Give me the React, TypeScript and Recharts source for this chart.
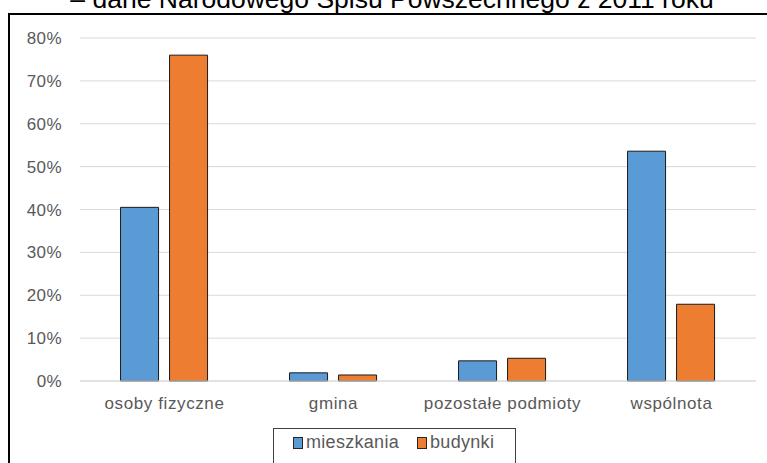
import { BarChart, Bar, XAxis, YAxis, CartesianGrid } from 'recharts'

const categories = ['osoby fizyczne', 'gmina', 'pozostałe podmioty', 'wspólnota']
const mieszkania = [40.5, 1.9, 4.7, 53.6]
const budynki = [76.0, 1.4, 5.3, 17.9]
const yTicks = [0, 10, 20, 30, 40, 50, 60, 70, 80]

const BLUE = '#5b9bd5'
const ORANGE = '#ed7d31'
const FONT = '"Liberation Sans", Arial, sans-serif'

const data = categories.map((name, i) => ({ name, mieszkania: mieszkania[i], budynki: budynki[i] }))

function LegendBox() {
  const sq = (color: string) => (
    <span style={{ display: 'inline-block', width: 8, height: 10, background: color, border: '1px solid #262626', marginRight: 3 }} />
  )
  return (
    <div
      style={{
        position: 'absolute', left: 273, top: 428, width: 243, height: 40, border: '1px solid #404040',
        boxSizing: 'border-box', fontFamily: FONT, fontSize: 18, letterSpacing: 0.3, color: '#595959', display: 'flex',
        alignItems: 'flex-start', paddingTop: 3, paddingLeft: 19,
      }}
    >
      <span style={{ display: 'flex', alignItems: 'center' }}>{sq(BLUE)}mieszkania</span>
      <span style={{ display: 'flex', alignItems: 'center', marginLeft: 18 }}>{sq(ORANGE)}budynki</span>
    </div>
  )
}

export default function App() {
  return (
    <div style={{ position: 'fixed', left: 0, top: 0, width: 767, height: 463, overflow: 'hidden', background: '#fff' }}>
      <div
        style={{
          position: 'absolute', left: 0, top: -16, width: 784, textAlign: 'center', fontFamily: FONT,
          fontSize: 26.5, color: '#000', whiteSpace: 'nowrap',
        }}
      >
        – dane Narodowego Spisu Powszechnego z 2011 roku
      </div>
      <div style={{ position: 'absolute', left: 8, top: 13, width: 780, height: 480, border: '2px solid #000', boxSizing: 'border-box' }} />
      <div style={{ position: 'absolute', left: 0, top: 0 }}>
        <BarChart width={767} height={463} data={data} margin={{ top: 38, right: 11, left: 0, bottom: 0 }} barCategoryGap="24%" barGap={11}>
          <CartesianGrid vertical={false} stroke="#d9d9d9" />
          <XAxis
            dataKey="name" height={82} tickLine={false} tickSize={0} tickMargin={16} axisLine={{ stroke: '#d9d9d9' }}
            tick={{ fontSize: 17, fill: '#595959', fontFamily: FONT, letterSpacing: 0.6 }} interval={0}
          />
          <YAxis
            width={80} domain={[0, 80]} ticks={yTicks} tickFormatter={(v: number) => `${v}%`} axisLine={false}
            tickLine={false} tickSize={0} tickMargin={18} tick={{ fontSize: 17, fill: '#595959', fontFamily: FONT, letterSpacing: 0.4 }}
          />
          <Bar dataKey="mieszkania" fill={BLUE} stroke="#1a1a1a" strokeWidth={1} isAnimationActive={false} />
          <Bar dataKey="budynki" fill={ORANGE} stroke="#1a1a1a" strokeWidth={1} isAnimationActive={false} />
        </BarChart>
      </div>
      <LegendBox />
    </div>
  )
}
